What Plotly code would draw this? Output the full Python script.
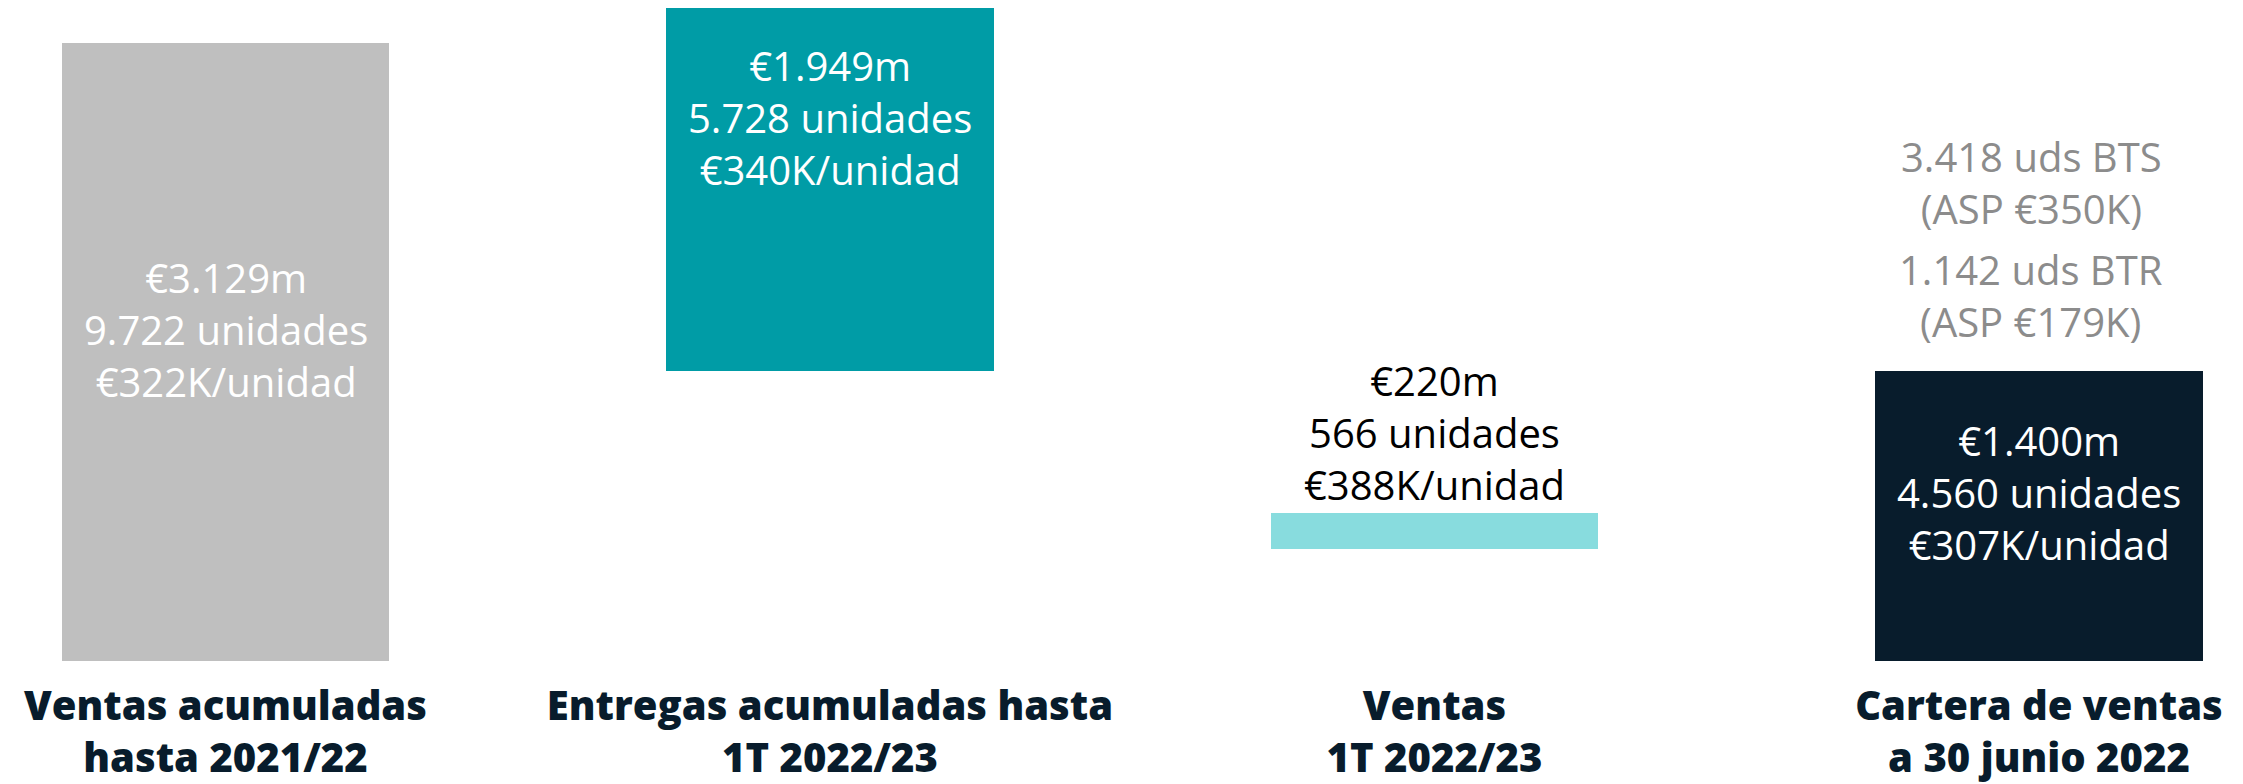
import plotly.graph_objects as go

# ---- data ----
categories = ["Ventas acumuladas<br>hasta 2021/22",
              "Entregas acumuladas hasta<br>1T 2022/23",
              "Ventas<br>1T 2022/23",
              "Cartera de ventas<br>a 30 junio 2022"]
bar_base = [0, 1468, 567, 0]          # bottom of each floating bar (€m scale of the drawing)
bar_length = [3129, 1848, 182, 1468]  # height of each bar
bar_colors = ["#bfbfbf", "#009ca6", "#88dcde", "#081c2c"]

value_labels = ["€3.129m<br>9.722 unidades<br>€322K/unidad",
                "€1.949m<br>5.728 unidades<br>€340K/unidad",
                "€220m<br>566 unidades<br>€388K/unidad",
                "€1.400m<br>4.560 unidades<br>€307K/unidad"]
label_y = [1676, 2754, 1159, 851]     # centre of each label block
label_colors = ["white", "white", "black", "white"]

side_notes = ["3.418 uds BTS<br>(ASP €350K)", "1.142 uds BTR<br>(ASP €179K)"]
side_notes_y = [2425, 1853]

x = list(range(len(categories)))

fig = go.Figure()
fig.add_trace(go.Bar(
    x=x, y=bar_length, base=bar_base,
    marker=dict(color=bar_colors, line=dict(width=0)),
    width=0.542, hoverinfo="skip", showlegend=False,
))

for xi, txt, yy, c in zip(x, value_labels, label_y, label_colors):
    fig.add_annotation(x=xi, y=yy, xref="x", yref="y", text=txt, showarrow=False,
                       font=dict(family="Open Sans", size=40, color=c),
                       align="center", xanchor="center", yanchor="middle")

for txt, yy in zip(side_notes, side_notes_y):
    fig.add_annotation(x=x[-1] - 0.013, y=yy, xref="x", yref="y", text=txt, showarrow=False,
                       font=dict(family="Open Sans", size=40, color="#8c8c8c"),
                       align="center", xanchor="center", yanchor="middle")

# page body has an 8px margin, so the figure is sized to fit inside the window
fig.update_layout(
    width=2235, height=776,
    margin=dict(l=0, r=0, t=0, b=123),
    paper_bgcolor="white", plot_bgcolor="white",
    bargap=0,
    xaxis=dict(range=[-0.3598, 3.3375], tickvals=x, ticktext=categories,
               showgrid=False, zeroline=False, showline=False, ticks="",
               automargin=False,
               tickfont=dict(family="Open Sans", size=40, color="#081c2c", weight=800),
               ticklabelstandoff=18),
    yaxis=dict(range=[0, 3306], visible=False, showgrid=False, zeroline=False,
               automargin=False),
)

fig.write_html("out.html")
